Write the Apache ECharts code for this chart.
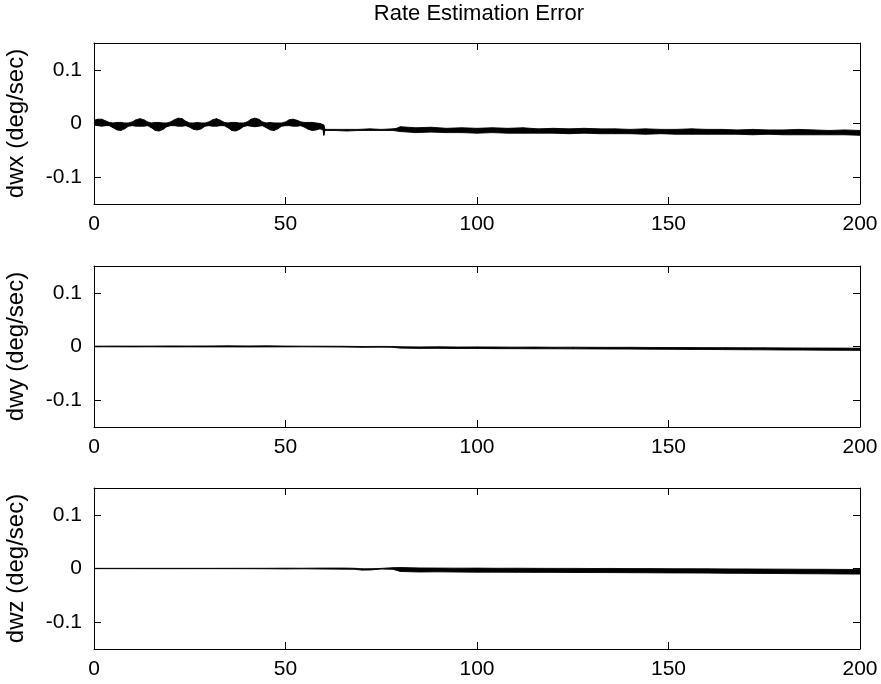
<!DOCTYPE html>
<html>
<head>
<meta charset="utf-8">
<script src="https://cdn.jsdelivr.net/npm/echarts@6/dist/echarts.min.js"></script>
<style>html,body{margin:0;padding:0;background:#fff;}#c{width:881px;height:684px;}</style>
</head>
<body>
<div id="c"></div>
<script>
const titleText = 'Rate Estimation Error';
const axisNames = ['dwx (deg/sec)', 'dwy (deg/sec)', 'dwz (deg/sec)'];
const xTicks = [0, 50, 100, 150, 200];
const yTicks = [-0.1, 0, 0.1];

// dwx: upper / lower envelope of the noisy trace
const dwxTime = [0,1,2,3,4,5,6,7,8,9,10,11,12,13,14,15,16,17,18,19,20,21,22,23,24,25,26,27,28,29,30,31,32,33,34,35,36,37,38,39,40,41,42,43,44,45,46,47,48,49,50,51,52,53,54,55,56,57,58,59,59.8,60,60.3,63,66,69,72,75,78,79,80,84,88,92,96,100,104,108,112,116,120,124,128,132,136,140,144,148,152,156,160,164,168,172,176,180,184,188,192,196,200];
const dwxHi = [0.006,0.008,0.008,0.005,0.002,0.001,0.002,0.002,0.001,0.001,0.003,0.007,0.009,0.007,0.003,0.001,0.002,0.002,0.001,0.001,0.003,0.007,0.010,0.009,0.004,0.001,0.001,0.002,0.001,0.001,0.003,0.007,0.009,0.006,0.002,0.001,0.002,0.002,0.001,0.001,0.003,0.008,0.010,0.008,0.003,0.001,0.002,0.001,0.001,0.001,0.003,0.007,0.008,0.006,0.003,0.002,0.002,0.002,0.001,0.000,-0.002,-0.003,-0.011,-0.011,-0.011,-0.011,-0.010,-0.011,-0.010,-0.009,-0.006,-0.008,-0.007,-0.009,-0.008,-0.009,-0.008,-0.009,-0.008,-0.010,-0.009,-0.010,-0.009,-0.010,-0.010,-0.011,-0.010,-0.011,-0.011,-0.010,-0.011,-0.011,-0.012,-0.011,-0.012,-0.012,-0.011,-0.012,-0.013,-0.012,-0.013];
const dwxLo = [-0.003,-0.004,-0.005,-0.004,-0.004,-0.008,-0.012,-0.013,-0.010,-0.005,-0.004,-0.005,-0.005,-0.005,-0.004,-0.008,-0.013,-0.014,-0.011,-0.006,-0.004,-0.004,-0.005,-0.005,-0.004,-0.007,-0.011,-0.012,-0.010,-0.005,-0.004,-0.005,-0.005,-0.004,-0.004,-0.008,-0.013,-0.014,-0.011,-0.006,-0.004,-0.005,-0.006,-0.005,-0.004,-0.008,-0.012,-0.013,-0.010,-0.005,-0.004,-0.004,-0.005,-0.005,-0.004,-0.007,-0.011,-0.013,-0.012,-0.010,-0.012,-0.022,-0.013,-0.013,-0.014,-0.013,-0.013,-0.013,-0.013,-0.014,-0.015,-0.017,-0.016,-0.017,-0.017,-0.018,-0.017,-0.018,-0.018,-0.018,-0.018,-0.019,-0.018,-0.019,-0.019,-0.019,-0.020,-0.019,-0.020,-0.020,-0.020,-0.020,-0.020,-0.021,-0.020,-0.021,-0.021,-0.021,-0.021,-0.021,-0.022];

// dwy
const dwyTime = [0,5,10,15,20,25,30,35,40,45,50,55,60,65,70,75,78,80,85,90,95,100,105,110,115,120,125,130,135,140,145,150,155,160,165,170,175,180,185,190,195,200];
const dwyHi = [0.0006,0.0008,0.0007,0.0008,0.0010,0.0009,0.0010,0.0012,0.0010,0.0012,0.0008,0.0006,0.0005,0.0004,0.0000,0.0002,0.0000,-0.0005,-0.0008,-0.0006,-0.0010,-0.0008,-0.0010,-0.0012,-0.0011,-0.0014,-0.0013,-0.0015,-0.0016,-0.0015,-0.0018,-0.0019,-0.0020,-0.0021,-0.0022,-0.0024,-0.0025,-0.0026,-0.0028,-0.0029,-0.0030,-0.0032];
const dwyLo = [-0.0006,-0.0006,-0.0007,-0.0006,-0.0008,-0.0007,-0.0008,-0.0008,-0.0009,-0.0008,-0.0007,-0.0006,-0.0008,-0.0010,-0.0015,-0.0012,-0.0015,-0.0030,-0.0035,-0.0034,-0.0038,-0.0036,-0.0040,-0.0040,-0.0042,-0.0042,-0.0044,-0.0045,-0.0047,-0.0048,-0.0050,-0.0052,-0.0054,-0.0055,-0.0058,-0.0060,-0.0062,-0.0065,-0.0066,-0.0068,-0.0070,-0.0072];

// dwz
const dwzTime = [0,10,20,30,40,45,50,55,60,65,68,70,72,75,78,80,85,90,95,100,105,110,115,120,125,130,135,140,145,150,155,160,165,170,175,180,185,190,195,200];
const dwzHi = [0.0003,0.0003,0.0003,0.0003,0.0004,0.0004,0.0006,0.0005,0.0008,0.0008,0.0004,-0.0005,-0.0005,0.0002,0.0015,0.0018,0.0010,0.0008,0.0006,0.0007,0.0004,0.0005,0.0003,0.0002,0.0002,0.0000,0.0001,-0.0002,-0.0002,-0.0004,-0.0005,-0.0006,-0.0008,-0.0009,-0.0011,-0.0012,-0.0014,-0.0015,-0.0017,-0.0018];
const dwzLo = [-0.0003,-0.0003,-0.0004,-0.0003,-0.0004,-0.0005,-0.0008,-0.0006,-0.0010,-0.0012,-0.0015,-0.0030,-0.0028,-0.0010,-0.0015,-0.0055,-0.0065,-0.0062,-0.0066,-0.0068,-0.0068,-0.0070,-0.0072,-0.0072,-0.0074,-0.0075,-0.0076,-0.0078,-0.0080,-0.0082,-0.0083,-0.0085,-0.0088,-0.0090,-0.0092,-0.0094,-0.0097,-0.0099,-0.0102,-0.0104];

const FONT = 'Liberation Sans, Arial, Helvetica, sans-serif';
const tops = [43, 266, 488];
const H = 161;

const chart = echarts.init(document.getElementById('c'), null, {renderer: 'canvas'});

const grids = [], xAxes = [], yAxes = [], series = [];
const lineStyle = {color: '#000', width: 1};
tops.forEach((t, i) => {
  grids.push({left: 94, right: 21, top: t, height: H, containLabel: false, outerBoundsMode: 'none'});
  xAxes.push({
    type: 'value', gridIndex: i, position: 'bottom', min: 0, max: 200, interval: 50,
    axisLine: {show: true, onZero: false, lineStyle},
    axisTick: {show: true, inside: true, length: 7, lineStyle, customValues: xTicks},
    axisLabel: {show: true, color: '#000', fontSize: 21, fontFamily: FONT, margin: 10, customValues: xTicks},
    splitLine: {show: false}
  });
  xAxes.push({
    type: 'value', gridIndex: i, position: 'top', min: 0, max: 200, interval: 50,
    axisLine: {show: true, onZero: false, lineStyle},
    axisTick: {show: true, inside: true, length: 7, lineStyle, customValues: xTicks},
    axisLabel: {show: false}, splitLine: {show: false}
  });
  yAxes.push({
    type: 'value', gridIndex: i, position: 'left', min: -0.15, max: 0.15,
    name: axisNames[i], nameLocation: 'middle', nameGap: 66, nameRotate: 90,
    nameTextStyle: {color: '#000', fontSize: 24, fontFamily: FONT},
    axisLine: {show: true, onZero: false, lineStyle},
    axisTick: {show: true, inside: true, length: 7, lineStyle, customValues: yTicks},
    axisLabel: {show: true, color: '#000', fontSize: 21, fontFamily: FONT, margin: 12, customValues: yTicks},
    splitLine: {show: false}
  });
  yAxes.push({
    type: 'value', gridIndex: i, position: 'right', min: -0.15, max: 0.15,
    axisLine: {show: true, onZero: false, lineStyle},
    axisTick: {show: true, inside: true, length: 7, lineStyle, customValues: yTicks},
    axisLabel: {show: false}, splitLine: {show: false}
  });
});

function bandSeries(tArr, hiArr, loArr, gi) {
  const data = tArr.map((t, k) => [t, hiArr[k], loArr[k]]);
  return {
    type: 'custom', coordinateSystem: 'cartesian2d', xAxisIndex: 2 * gi, yAxisIndex: 2 * gi,
    data: data, clip: true, silent: true, animation: false,
    encode: {x: 0, y: [1, 2]},
    renderItem: function (params, api) {
      const k = params.dataIndex;
      if (k >= data.length - 1) return null;
      const a = data[k], b = data[k + 1];
      const pts = [api.coord([a[0], a[1]]), api.coord([b[0], b[1]]), api.coord([b[0], b[2]]), api.coord([a[0], a[2]])];
      return {type: 'polygon', shape: {points: pts}, style: {fill: '#000', stroke: '#000', lineWidth: 0.9}};
    }
  };
}
series.push(bandSeries(dwxTime, dwxHi, dwxLo, 0));
series.push(bandSeries(dwyTime, dwyHi, dwyLo, 1));
series.push(bandSeries(dwzTime, dwzHi, dwzLo, 2));

chart.setOption({
  animation: false,
  backgroundColor: '#fff',
  grid: grids, xAxis: xAxes, yAxis: yAxes, series: series,
  graphic: [{
    type: 'text', x: 479, y: 3,
    style: {text: titleText, fill: '#000', font: '22px ' + FONT, textAlign: 'center', textVerticalAlign: 'top'}
  }]
});
</script>
</body>
</html>
